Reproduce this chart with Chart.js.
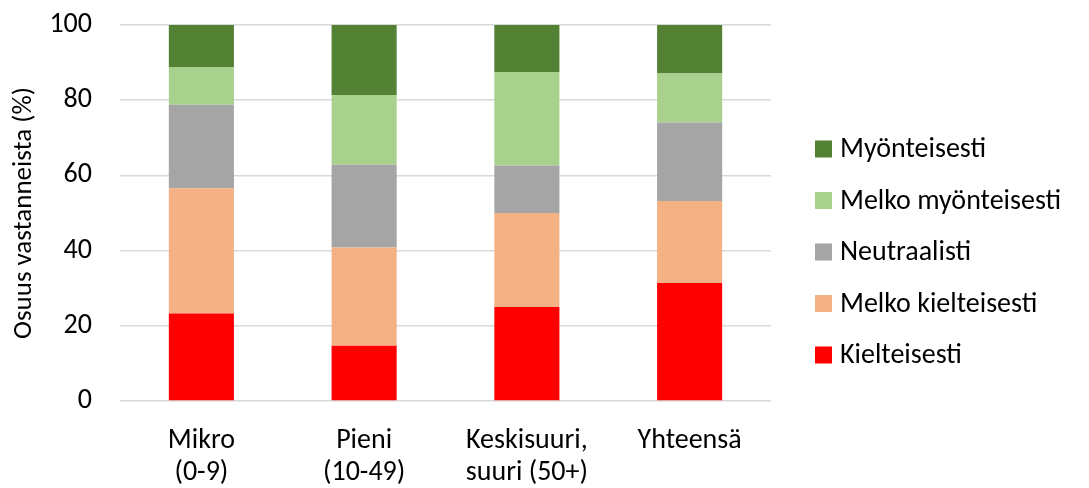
<!DOCTYPE html>
<html>
<head>
<meta charset="utf-8">
<script src="https://cdn.jsdelivr.net/npm/chart.js@4"></script>
<style>
  html, body { margin: 0; padding: 0; background: #fff; }
  #wrap { width: 1089px; height: 488px; }
</style>
</head>
<body>
<div id="wrap"><canvas id="chart" width="1089" height="488"></canvas></div>
<script>
const categories = [['Mikro', '(0-9)'], ['Pieni', '(10-49)'], ['Keskisuuri,', 'suuri (50+)'], ['Yhteensä']];

const kielteisesti = [23.3, 14.7, 25.0, 31.4];
const melkoKielteisesti = [33.3, 26.1, 25.0, 21.8];
const neutraalisti = [22.2, 22.0, 12.6, 20.9];
const melkoMyonteisesti = [10.0, 18.6, 24.9, 13.0];
const myonteisesti = [11.2, 18.6, 12.5, 12.9];

const yTicks = [0, 20, 40, 60, 80, 100];

const fontFamily = 'Carlito, Calibri, Lato, sans-serif';

// oma selite oikealle, ylin sarja ensin
const sideLegend = {
    id: 'sideLegend',
    afterDraw(chart) {
        const ctx = chart.ctx;
        const items = chart.data.datasets.slice().reverse();
        const x = chart.chartArea.right + 44;
        const y0 = 149;
        const step = 51.5;
        ctx.save();
        ctx.font = `28px ${fontFamily}`;
        ctx.textBaseline = 'middle';
        ctx.textAlign = 'left';
        items.forEach((d, i) => {
            const y = y0 + i * step;
            ctx.fillStyle = d.backgroundColor;
            ctx.fillRect(x, y - 8.5, 17, 17);
            ctx.fillStyle = '#000';
            ctx.fillText(d.label, x + 25, y + 1);
        });
        ctx.restore();
    }
};

const ds = (label, data, color) => ({
    label,
    data,
    backgroundColor: color,
    borderWidth: 0,
    barPercentage: 0.4,
    categoryPercentage: 1
});

new Chart(document.getElementById('chart'), {
    type: 'bar',
    data: {
        labels: categories,
        datasets: [
            ds('Kielteisesti', kielteisesti, '#FF0000'),
            ds('Melko kielteisesti', melkoKielteisesti, '#F4B183'),
            ds('Neutraalisti', neutraalisti, '#A5A5A5'),
            ds('Melko myönteisesti', melkoMyonteisesti, '#A9D18E'),
            ds('Myönteisesti', myonteisesti, '#548235')
        ]
    },
    options: {
        responsive: false,
        animation: false,
        devicePixelRatio: 1,
        layout: { padding: { top: 25, right: 318, left: 0, bottom: 0 } },
        plugins: {
            tooltip: { enabled: false },
            legend: { display: false }
        },
        scales: {
            x: {
                stacked: true,
                grid: { display: false },
                border: { display: false },
                afterFit: s => { s.height = 87; s.paddingLeft = 0; s.paddingRight = 0; },
                ticks: {
                    color: '#000',
                    padding: 16,
                    maxRotation: 0,
                    font: { family: fontFamily, size: 28, lineHeight: 1.14 }
                }
            },
            y: {
                stacked: true,
                min: 0,
                max: 100,
                afterBuildTicks: axis => { axis.ticks = yTicks.map(v => ({ value: v })); },
                afterFit: s => { s.width = 120; s.paddingTop = 0; s.paddingBottom = 0; },
                grid: { color: '#D9D9D9', lineWidth: 1.5, drawTicks: false },
                border: { display: false },
                ticks: {
                    color: '#000',
                    padding: 28,
                    font: { family: fontFamily, size: 28 }
                },
                title: {
                    display: true,
                    text: 'Osuus vastanneista (%)',
                    color: '#000',
                    padding: 8,
                    font: { family: fontFamily, size: 27 }
                }
            }
        }
    },
    plugins: [sideLegend]
});
</script>
</body>
</html>
